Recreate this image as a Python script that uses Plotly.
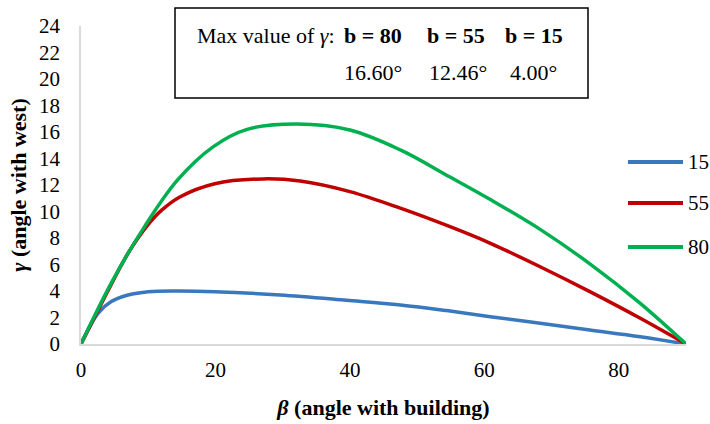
import plotly.graph_objects as go

# ---- data ----
beta_15 = [0, 1.2, 2.5, 4.5, 7.0, 10.0, 14.5, 19.9, 29.6, 39.5, 47.5, 54.4, 60.9, 68.3, 75.7, 83.2, 90]
gamma_15 = [0, 1.2, 2.3, 3.2, 3.7, 3.95, 4.0, 3.95, 3.7, 3.3, 2.95, 2.52, 2.06, 1.56, 1.06, 0.55, 0]

beta_55 = [0, 4.5, 7.0, 9.8, 12.0, 14.7, 19.9, 27.1, 32.6, 40.0, 47.5, 54.9, 60.9, 68.3, 75.7, 83.2, 90]
gamma_55 = [0, 4.5, 6.85, 8.9, 10.1, 11.1, 12.1, 12.46, 12.3, 11.5, 10.25, 8.85, 7.6, 5.83, 3.95, 1.94, 0]

beta_80 = [0, 4.5, 9.5, 14.4, 19.7, 24.7, 32.1, 40.0, 47.5, 54.9, 60.9, 68.3, 75.7, 83.2, 90]
gamma_80 = [0, 4.6, 8.9, 12.4, 14.9, 16.2, 16.6, 16.15, 14.65, 12.6, 10.9, 8.65, 6.05, 3.07, 0]

series_names = ["15", "55", "80"]
box_b_labels = ["b = 80", "b = 55", "b = 15"]
box_max_values = ["16.60°", "12.46°", "4.00°"]

x_ticks = [0, 20, 40, 60, 80]
y_ticks = list(range(0, 25, 2))

# ---- layout helpers (page body margin removed by post_script) ----
W, H = 710, 424
L, R, T, B = 81, 24, 26, 80
PW, PH = W - L - R, H - T - B


def px(x):
    return (x - L) / PW


def py(y):
    return (T + PH - y) / PH


FONT = "Liberation Serif"
colors = ["#3A78BE", "#C00000", "#00B050"]

fig = go.Figure()
for name, xs, ys, c in zip(series_names,
                           [beta_15, beta_55, beta_80],
                           [gamma_15, gamma_55, gamma_80],
                           colors):
    fig.add_trace(go.Scatter(
        x=xs, y=ys, name=name, mode="lines",
        line=dict(color=c, width=3.5, shape="spline", smoothing=1.0),
        showlegend=False,
    ))

fig.update_layout(
    width=W, height=H,
    margin=dict(l=L, r=R, t=T, b=B, autoexpand=False),
    paper_bgcolor="white", plot_bgcolor="white",
    font=dict(family=FONT, size=21, color="black"),
    showlegend=False,
    xaxis=dict(range=[0, 90], tickvals=x_ticks, showgrid=False, zeroline=False,
               showline=True, linecolor="#d9d9d9", linewidth=1.5,
               ticks="outside", ticklen=6, tickcolor="rgba(0,0,0,0)",
               tickfont=dict(size=21, family=FONT),
               title=dict(text="<b><i>β</i> (angle with building)</b>",
                          font=dict(size=22, family=FONT), standoff=19),
               automargin=False),
    yaxis=dict(range=[0, 24], tickvals=y_ticks, showgrid=False, zeroline=False,
               showline=True, linecolor="#d9d9d9", linewidth=1.5,
               ticks="outside", ticklen=15, tickcolor="rgba(0,0,0,0)",
               tickfont=dict(size=21, family=FONT),
               title=dict(text="<b><i>γ</i> (angle with west)</b>",
                          font=dict(size=22, family=FONT), standoff=6),
               automargin=False),
)

# legend (drawn by hand so it sits where the reference has it)
legend_y = [162, 203, 247]
for name, c, ly in zip(series_names, colors, legend_y):
    fig.add_shape(type="line", xref="paper", yref="paper",
                  x0=px(628), x1=px(683), y0=py(ly), y1=py(ly),
                  line=dict(color=c, width=4))
    fig.add_annotation(xref="paper", yref="paper", x=px(686), y=py(ly),
                       xanchor="left", yanchor="middle", showarrow=False,
                       text=name, font=dict(size=21, family=FONT))

# info box
fig.add_shape(type="rect", xref="paper", yref="paper",
              x0=px(175), x1=px(588), y0=py(98), y1=py(8),
              line=dict(color="black", width=1.5), fillcolor="white", layer="above")

BOX_FS = 22
fig.add_annotation(xref="paper", yref="paper", x=px(195), y=py(35),
                   xanchor="left", yanchor="middle", showarrow=False,
                   text="Max value of <i>γ</i>:", font=dict(size=BOX_FS, family=FONT))
b_x = [342, 425, 503]
v_x = [342, 427, 508]
for lbl, val, bx, vx in zip(box_b_labels, box_max_values, b_x, v_x):
    fig.add_annotation(xref="paper", yref="paper", x=px(bx), y=py(35),
                       xanchor="left", yanchor="middle", showarrow=False,
                       text=f"<b>{lbl}</b>", font=dict(size=BOX_FS, family=FONT))
    fig.add_annotation(xref="paper", yref="paper", x=px(vx), y=py(72),
                       xanchor="left", yanchor="middle", showarrow=False,
                       text=val, font=dict(size=BOX_FS, family=FONT))

fig.write_html(
    "out.html",
    config={"displayModeBar": False},
    post_script="document.body.style.margin='0px';"
                "document.documentElement.style.overflow='hidden';",
)
